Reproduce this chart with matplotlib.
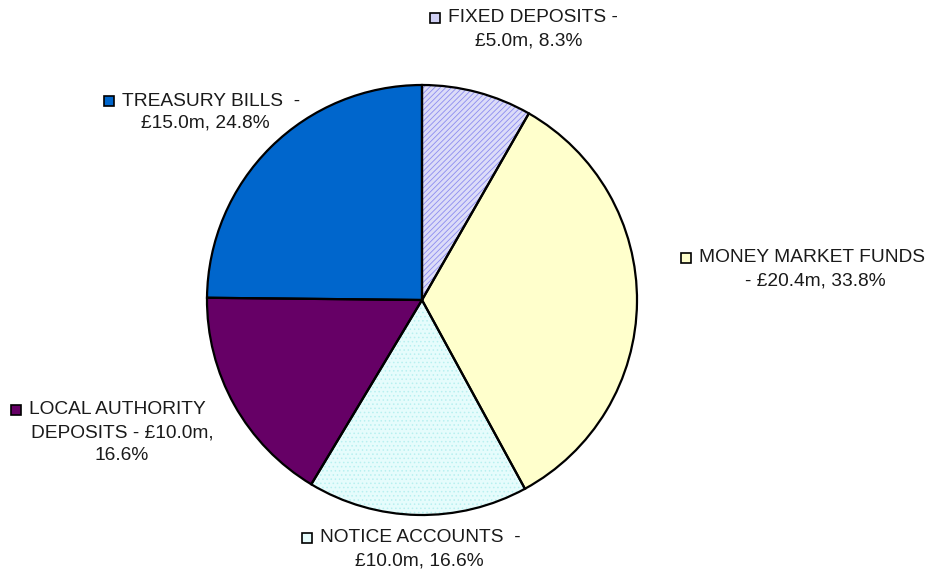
import matplotlib.pyplot as plt

## Data
labels = ["FIXED DEPOSITS", "MONEY MARKET FUNDS", "NOTICE ACCOUNTS",
          "LOCAL AUTHORITY DEPOSITS", "TREASURY BILLS"]
values = [5.0, 20.4, 10.0, 10.0, 15.0]
colors = ["#dcdcf8", "#ffffcc", "#e6fcfc", "#660066", "#0066cc"]
hatches = ["//////", None, "....", None, None]
hatch_colors = ["#8c8cf0", "#ffffcc", "#b8f0f0", "#660066", "#0066cc"]
key_colors = ["#d0d0f4", "#ffffcc", "#e6fcfc", "#660066", "#0066cc"]

total = sum(values)
pcts = [v / total * 100 for v in values]

## Figure in pixel coordinates (y measured from top, converted below)
H = 577
plt.rcParams['font.family'] = ['Liberation Sans', 'DejaVu Sans']
plt.rcParams['hatch.linewidth'] = 0.6
fig = plt.figure(figsize=(9.34, 5.77), dpi=100)
ax = fig.add_axes([0, 0, 1, 1])

center = (422, H - 300)
radius = 215

# fill + hatch layer
wedges, _ = ax.pie(values, center=center, radius=radius, startangle=90,
                   counterclock=False, colors=colors, frame=True)
for w, h, hc in zip(wedges, hatches, hatch_colors):
    w.set_edgecolor(hc)
    w.set_linewidth(0)
    if h:
        w.set_hatch(h)
# outline layer
ax.pie(values, center=center, radius=radius, startangle=90, counterclock=False,
       colors=['none'] * len(values), frame=True,
       wedgeprops=dict(edgecolor='black', linewidth=1.6))
ax.set_xlim(0, 934)
ax.set_ylim(0, H)
ax.set_aspect('equal')
ax.axis('off')

## Labels
label_lines = [
    ["FIXED DEPOSITS -", "£%.1fm, %.1f%%" % (values[0], pcts[0])],
    ["MONEY MARKET FUNDS", "- £%.1fm, %.1f%%" % (values[1], pcts[1])],
    ["NOTICE ACCOUNTS  -", "£%.1fm, %.1f%%" % (values[2], pcts[2])],
    ["LOCAL AUTHORITY", "DEPOSITS - £%.1fm," % values[3], "%.1f%%" % pcts[3]],
    ["TREASURY BILLS  -", "£%.1fm, %.1f%%" % (values[4], pcts[4])],
]
marker_pos = [(435, 18), (686, 258), (307, 538), (16, 410), (109, 101)]
line_cx = [529, 815, 419, 122, 205]
line_step = 22.5

for i, lines in enumerate(label_lines):
    mx, my = marker_pos[i]
    ax.plot(mx, H - my, marker='s', markersize=7, markerfacecolor=key_colors[i],
            markeredgecolor='black', markeredgewidth=1.2, clip_on=False)
    ax.text(mx + 13, H - my, lines[0], ha='left', va='center', fontsize=13.8, color='#1a1a1a')
    for j, line in enumerate(lines[1:], start=1):
        ax.text(line_cx[i], H - (my + j * line_step), line, ha='center', va='center',
                fontsize=13.8, color='#1a1a1a')

fig.savefig('out.png', dpi=100)
